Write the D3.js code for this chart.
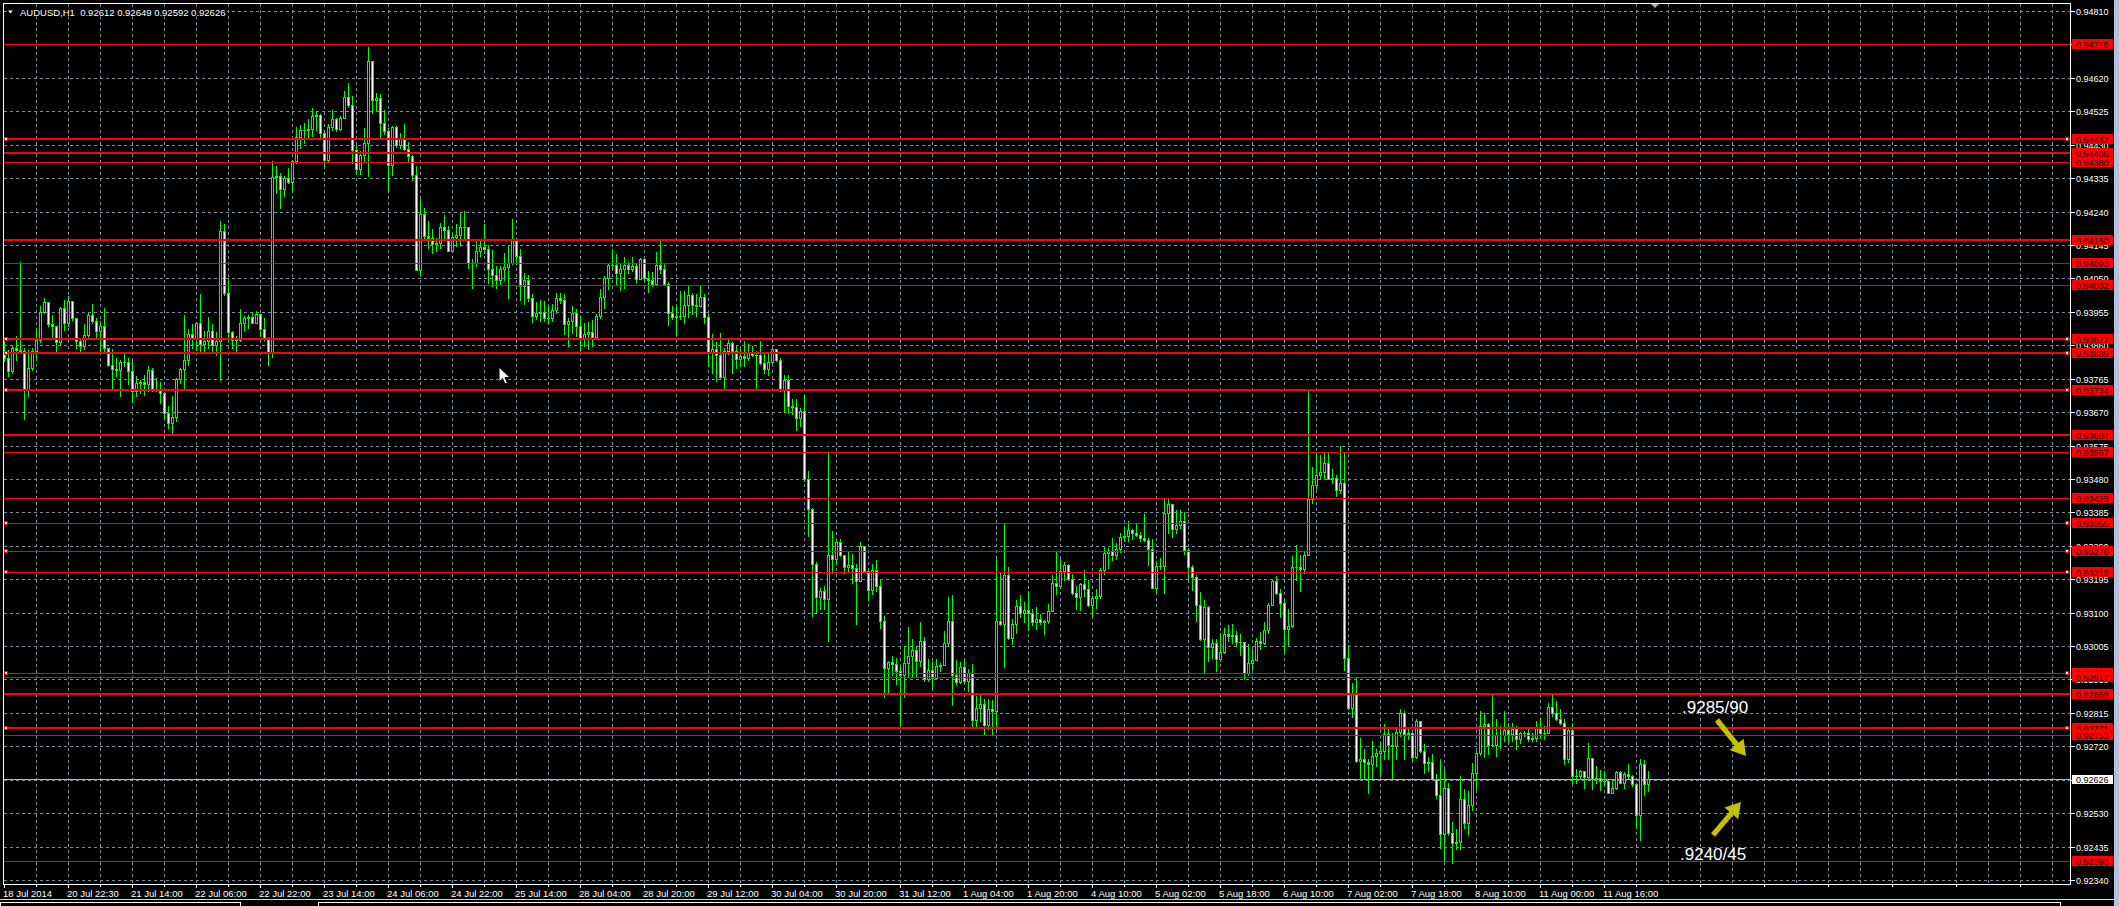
<!DOCTYPE html>
<html><head><meta charset="utf-8"><title>AUDUSD,H1</title>
<script src="https://cdn.jsdelivr.net/npm/d3@7/dist/d3.min.js"></script>
<style>html,body{margin:0;padding:0;background:#000;overflow:hidden}svg{display:block}</style>
</head><body>
<svg id="chart" width="2119" height="906"></svg>
<script>
// ---------- DATA (prices in points, 1 point = 0.00001) ----------
const symbol = "AUDUSD,H1";
const firstOpen = 93834;
const highs = [
93876,93847,93857,93887,94097,93852,93847,93852,93909,93972,
93993,93984,93947,93881,93969,93989,93999,93987,93937,93878,
93919,93952,93977,93937,93928,93966,93852,93849,93824,93819,
93836,93824,93814,93772,93760,93776,93800,93795,93767,93755,
93726,93686,93715,93767,93795,93947,93906,93919,93924,94007,
93900,93941,93919,93897,94213,94205,94048,93900,93887,93962,
93944,93947,93954,93956,93944,93937,93883,94383,94370,94349,
94342,94363,94387,94480,94487,94492,94503,94534,94525,94517,
94473,94490,94528,94506,94511,94582,94605,94567,94430,94411,
94477,94708,94667,94577,94574,94530,94477,94482,94482,94463,
94490,94437,94402,94369,94275,94251,94213,94189,94166,94208,
94229,94199,94175,94204,94235,94242,94194,94104,94156,94163,
94206,94144,94131,94085,94085,94123,94142,94218,94166,94133,
94066,94059,94005,93983,93989,93986,93971,93976,94008,94008,
94005,93938,93971,93962,93943,93922,93926,93932,93948,94021,
94057,94095,94133,94118,94090,94111,94097,94112,94093,94109,
94104,94071,94068,94125,94159,94093,94040,93972,93973,94014,
94014,94030,94009,94005,94030,94005,93953,93891,93869,93896,
93853,93875,93869,93860,93848,93872,93863,93858,93844,93872,
93841,93834,93853,93850,93825,93774,93774,93708,93708,93683,
93718,93503,93398,93244,93171,93176,93553,93332,93308,93308,
93261,93272,93266,93237,93302,93289,93225,93237,93249,93194,
93090,92962,92977,92972,92950,93005,93060,93026,93005,93073,
93031,92967,92960,92967,92956,93048,93145,93149,92965,92960,
92965,92939,92953,92863,92868,92855,92855,92853,93253,93215,
93354,93230,93083,93136,93149,93130,93161,93109,93117,93095,
93079,93124,93206,93275,93253,93244,93237,93209,93176,93183,
93221,93194,93147,93168,93228,93287,93284,93313,93297,93325,
93341,93360,93337,93354,93329,93379,93313,93308,93247,93256,
93427,93422,93410,93393,93393,93386,93284,93234,93206,93159,
93136,93119,93026,93026,93043,93057,93064,93069,93048,93038,
93010,93010,92997,93029,93045,93073,93126,93196,93204,93166,
93138,93109,93261,93291,93263,93275,93729,93515,93555,93547,
93553,93553,93507,93490,93575,93556,93007,92901,92915,92744,
92711,92683,92735,92711,92735,92782,92773,92759,92768,92827,
92820,92768,92757,92797,92789,92726,92690,92697,92640,92685,
92655,92615,92505,92486,92637,92598,92593,92673,92707,92820,
92815,92787,92865,92797,92778,92820,92787,92785,92778,92761,
92763,92770,92757,92792,92801,92778,92842,92865,92849,92825,
92797,92773,92787,92656,92654,92650,92730,92688,92664,92654,
92650,92619,92626,92650,92650,92647,92669,92638,92617,92683,
92681,92649];
const lows = [
93814,93772,93781,93819,93840,93650,93717,93790,93819,93868,
93952,93914,93881,93845,93861,93904,93916,93932,93849,93840,
93849,93881,93924,93881,93840,93840,93800,93738,93772,93717,
93800,93749,93700,93717,93724,93719,93729,93729,93729,93696,
93653,93625,93606,93644,93754,93734,93805,93852,93847,93838,
93843,93852,93843,93833,93760,94004,93876,93852,93840,93871,
93900,93909,93922,93932,93885,93876,93805,93827,94293,94250,
94283,94320,94295,94378,94421,94435,94449,94454,94473,94449,
94370,94383,94473,94468,94473,94506,94537,94378,94348,94348,
94385,94342,94520,94530,94449,94461,94300,94343,94423,94421,
94416,94383,94331,94073,94059,94166,94137,94123,94128,94137,
94166,94128,94142,94142,94144,94163,94080,94024,94085,94114,
94123,94036,94028,94024,94033,94045,93993,94090,94090,93989,
93976,93986,93926,93935,93929,93929,93924,93929,93953,93981,
93891,93858,93896,93886,93841,93858,93848,93858,93877,93938,
93967,94019,94076,94033,94017,94024,94066,94071,94040,94047,
94045,94011,94028,94033,94066,94030,93917,93935,93888,93935,
93924,93941,93948,93943,93972,93924,93801,93782,93758,93763,
93739,93834,93782,93796,93801,93801,93818,93829,93735,93806,
93780,93774,93809,93815,93730,93670,93668,93664,93619,93630,
93474,93318,93090,93100,93111,93111,93019,93213,93237,93261,
93213,93218,93185,93069,93191,93215,93136,93152,93161,93057,
92861,92872,92922,92896,92773,92861,92920,92920,92920,92948,
92905,92905,92886,92924,92934,92950,93005,92836,92896,92899,
92901,92877,92778,92773,92792,92754,92768,92754,92768,93064,
92944,93024,93010,93043,93088,93073,93050,93064,93054,93069,
93038,93071,93105,93152,93171,93194,93194,93152,93110,93108,
93147,93119,93088,93114,93142,93209,93228,93249,93251,93272,
93303,93303,93308,93318,93303,93303,93234,93171,93159,93223,
93157,93325,93316,93327,93341,93266,93196,93164,93076,93022,
92931,92962,92972,92934,92962,92984,93019,93014,93005,92979,
92912,92922,92941,92965,92997,93010,93041,93128,93152,93088,
92986,93007,93060,93194,93161,93213,93263,93412,93455,93481,
93483,93479,93467,93431,93441,92937,92825,92804,92675,92626,
92626,92586,92631,92664,92637,92683,92683,92631,92683,92749,
92683,92740,92678,92688,92704,92645,92650,92626,92574,92432,
92394,92467,92389,92429,92429,92489,92470,92539,92598,92694,
92690,92697,92721,92692,92716,92735,92728,92735,92713,92730,
92749,92735,92735,92735,92745,92740,92757,92806,92795,92782,
92671,92675,92615,92615,92626,92602,92626,92600,92617,92596,
92612,92586,92588,92600,92615,92602,92631,92607,92489,92454,
92583,92592];
const closes = [
93824,93786,93852,93847,93845,93736,93795,93845,93874,93954,
93984,93919,93914,93870,93965,93924,93986,93937,93871,93859,
93889,93946,93928,93900,93914,93852,93805,93792,93791,93813,
93813,93786,93729,93753,93755,93751,93791,93736,93732,93724,
93667,93639,93656,93764,93792,93819,93893,93881,93922,93864,
93871,93900,93862,93871,94185,94009,93897,93874,93876,93924,
93938,93940,93924,93949,93906,93881,93838,94338,94340,94304,
94335,94325,94385,94452,94473,94473,94475,94511,94514,94463,
94387,94480,94503,94475,94507,94566,94544,94414,94361,94401,
94435,94667,94556,94562,94492,94468,94373,94481,94430,94448,
94418,94397,94345,94075,94232,94170,94166,94147,94150,94197,
94188,94129,94169,94173,94197,94195,94095,94093,94127,94138,
94133,94078,94060,94045,94078,94082,94093,94163,94114,94028,
94045,93995,93943,93953,93955,93938,93936,93961,93995,93989,
93920,93929,93953,93915,93879,93892,93899,93882,93943,93998,
94052,94087,94088,94066,94076,94087,94078,94084,94049,94106,
94052,94045,94034,94089,94076,94033,93951,93941,93943,93943,
93975,94004,93975,93971,93998,93941,93841,93848,93831,93771,
93843,93866,93844,93820,93830,93824,93838,93832,93831,93810,
93792,93811,93848,93818,93733,93761,93687,93685,93654,93672,
93479,93394,93237,93145,93161,93138,93264,93251,93301,93264,
93231,93236,93227,93191,93289,93218,93164,93221,93176,93076,
92943,92960,92955,92934,92924,92958,92978,92994,92963,93019,
92910,92937,92915,92948,92952,93013,93076,92924,92903,92946,
92905,92927,92796,92829,92841,92780,92825,92819,93076,93068,
93207,93029,93068,93119,93100,93107,93100,93073,93081,93073,
93076,93105,93185,93176,93217,93236,93196,93157,93145,93180,
93166,93121,93141,93148,93221,93269,93274,93265,93281,93316,
93318,93335,93327,93321,93313,93306,93282,93171,93232,93232,
93382,93410,93337,93350,93360,93278,93231,93202,93121,93026,
93116,93003,93014,92967,92988,93038,93033,93036,93016,93016,
92929,92958,92964,93019,93014,93052,93122,93189,93157,93128,
93054,93062,93231,93231,93225,93265,93424,93464,93492,93501,
93526,93481,93483,93448,93468,92972,92830,92870,92678,92683,
92675,92671,92692,92700,92706,92756,92723,92721,92762,92816,
92754,92757,92690,92791,92707,92673,92675,92626,92583,92470,
92601,92473,92446,92448,92571,92503,92552,92645,92700,92778,
92784,92723,92725,92751,92751,92765,92755,92769,92742,92758,
92757,92742,92743,92775,92757,92759,92833,92814,92798,92787,
92685,92766,92637,92637,92649,92633,92687,92626,92630,92621,
92620,92588,92601,92647,92617,92642,92636,92612,92524,92671,
92612,92626];
const timeLabels = ["18 Jul 2014","20 Jul 22:30","21 Jul 14:00","22 Jul 06:00","22 Jul 22:00",
"23 Jul 14:00","24 Jul 06:00","24 Jul 22:00","25 Jul 14:00","28 Jul 04:00","28 Jul 20:00",
"29 Jul 12:00","30 Jul 04:00","30 Jul 20:00","31 Jul 12:00","1 Aug 04:00","1 Aug 20:00",
"4 Aug 10:00","5 Aug 02:00","5 Aug 18:00","6 Aug 10:00","7 Aug 02:00","7 Aug 18:00",
"8 Aug 10:00","11 Aug 00:00","11 Aug 16:00"];
const barsPerLabel = 16;
const barsPerGrid = 8;
const priceTicks = ["0.92340","0.92435","0.92530","0.92625","0.92720","0.92815","0.92910",
"0.93005","0.93100","0.93195","0.93290","0.93385","0.93480","0.93575","0.93670","0.93765",
"0.93860","0.93955","0.94050","0.94145","0.94240","0.94335","0.94430","0.94525","0.94620",
"0.94715","0.94810"];
const levels = ["0.94715","0.94447","0.94406","0.94380","0.94160","0.94093","0.94032",
"0.93877","0.93839","0.93734","0.93604","0.93557","0.93425","0.93355","0.93276","0.93215",
"0.92929","0.92917","0.92869","0.92771","0.92753","0.92393"];
const markedLevels = ["0.94447","0.93877","0.93839","0.93734","0.93355","0.93276","0.93215","0.92929","0.92771"];
const currentPrice = "0.92626";
const noteTexts = [".9285/90", ".9240/45"];

// ---------- STYLE ----------
const thickLevels = new Set(["0.94447","0.94406","0.94160","0.93877","0.93839","0.93734","0.93604","0.92869","0.92771"]);
const LIME = "#00ff00", GRID = "#7f8c9a", RED = "#ff0000", ARROW = "#c2c200";
const FONT = "'Liberation Sans', Arial, sans-serif";

// ---------- SCALES ----------
const svg = d3.select("#chart");
const n = closes.length;
const x = d3.scaleLinear().domain([0, n - 1]).range([4.3, 4.3 + 4 * (n - 1)]);
const y = d3.scaleLinear().domain([92340, 94810]).range([880, 11]);
const pt = s => Math.round(parseFloat(s) * 1e5);
const L = 3, R = 2070, T = 3, B = 884;

svg.append("rect").attr("width", 2119).attr("height", 906).attr("fill", "#000");

// grid
const grid = svg.append("g").attr("shape-rendering", "crispEdges")
  .attr("stroke", GRID).attr("stroke-width", 1).attr("stroke-dasharray", "3,3");
grid.selectAll("line.h").data(priceTicks).join("line")
  .attr("x1", L + 1).attr("x2", R)
  .attr("y1", d => Math.round(y(pt(d))) + 0.5).attr("y2", d => Math.round(y(pt(d))) + 0.5);
const vIdx = d3.range(barsPerGrid, 1000, barsPerGrid).filter(i => x(i) < R - 1);
grid.selectAll("line.v").data(vIdx).join("line")
  .attr("x1", d => Math.floor(x(d)) + 0.5).attr("x2", d => Math.floor(x(d)) + 0.5)
  .attr("y1", T + 1).attr("y2", B);

// current price line
svg.append("line").attr("shape-rendering", "crispEdges")
  .attr("x1", L + 1).attr("x2", R).attr("y1", Math.round(y(pt(currentPrice))) + 0.5)
  .attr("y2", Math.round(y(pt(currentPrice))) + 0.5).attr("stroke", "#aeb6bf");

// candles
const candles = closes.map((c, i) => ({
  i, o: i ? closes[i - 1] : firstOpen, h: highs[i], l: lows[i], c
}));
const cg = svg.append("g").attr("shape-rendering", "crispEdges");
const cs = cg.selectAll("g").data(candles).join("g");
cs.append("rect")
  .attr("x", d => Math.floor(x(d.i))).attr("width", 1)
  .attr("y", d => Math.round(y(Math.max(d.h, d.o, d.c))))
  .attr("height", d => Math.max(1, Math.round(y(Math.min(d.l, d.o, d.c))) - Math.round(y(Math.max(d.h, d.o, d.c))) + 1))
  .attr("fill", LIME);
cs.append("rect")
  .attr("x", d => Math.floor(x(d.i)) - 1).attr("width", 3)
  .attr("y", d => Math.round(y(Math.max(d.o, d.c))))
  .attr("height", d => Math.round(y(Math.min(d.o, d.c))) - Math.round(y(Math.max(d.o, d.c))) + 1)
  .attr("fill", LIME);
cs.filter(d => Math.round(y(Math.min(d.o, d.c))) - Math.round(y(Math.max(d.o, d.c))) > 1)
  .append("rect")
  .attr("x", d => Math.floor(x(d.i))).attr("width", 1)
  .attr("y", d => Math.round(y(Math.max(d.o, d.c))) + 1)
  .attr("height", d => Math.round(y(Math.min(d.o, d.c))) - Math.round(y(Math.max(d.o, d.c))) - 1)
  .attr("fill", d => d.c < d.o ? "#ffffff" : "#000000");

// red levels
const lg = svg.append("g").attr("shape-rendering", "crispEdges");
lg.selectAll("rect.lvl").data(levels).join("rect")
  .attr("x", L + 1).attr("width", R - L - 1)
  .attr("y", d => Math.round(y(pt(d))) - (thickLevels.has(d) ? 1 : 0))
  .attr("height", d => thickLevels.has(d) ? 2 : 1).attr("fill", RED);
markedLevels.forEach(s => {
  const yy = Math.round(y(pt(s)));
  [6, 2067].forEach(mx => {
    lg.append("rect").attr("x", mx - 2 + 0.5).attr("y", yy - 2 + 0.5).attr("width", 3).attr("height", 3)
      .attr("fill", "#fff").attr("stroke", RED).attr("stroke-width", 1);
  });
});

// frame
svg.append("rect").attr("x", L + 0.5).attr("y", T + 0.5).attr("width", R - L).attr("height", B - T)
  .attr("fill", "none").attr("stroke", "#fff").attr("shape-rendering", "crispEdges");

// price axis
const ax = svg.append("g");
priceTicks.forEach(s => {
  const yy = Math.round(y(pt(s)));
  ax.append("rect").attr("x", R + 1).attr("y", yy).attr("width", 4).attr("height", 1).attr("fill", "#fff");
  ax.append("text").attr("x", 2076).attr("y", yy + 3.5).text(s)
    .attr("fill", "#fff").attr("font-family", FONT).attr("font-size", 9);
});
levels.forEach(s => {
  const yy = y(pt(s));
  ax.append("rect").attr("x", 2072).attr("y", Math.round(yy) - 5).attr("width", 41).attr("height", 10).attr("fill", RED);
  ax.append("text").attr("x", 2076).attr("y", Math.round(yy) + 3.5).text(s)
    .attr("fill", "#2a0000").attr("font-family", FONT).attr("font-size", 9);
});
{
  const yy = Math.round(y(pt(currentPrice)));
  ax.append("rect").attr("x", 2072).attr("y", yy - 4).attr("width", 41).attr("height", 9).attr("fill", "#fff");
  ax.append("text").attr("x", 2076).attr("y", yy + 3.5).text(currentPrice)
    .attr("fill", "#000").attr("font-family", FONT).attr("font-size", 9);
}

// time axis
const tg = svg.append("g");
timeLabels.forEach((t, k) => {
  const xx = Math.floor(x(k * barsPerLabel));
  tg.append("rect").attr("x", xx).attr("y", B + 1).attr("width", 1).attr("height", 3).attr("fill", "#fff");
  tg.append("text").attr("x", xx - 1).attr("y", 897).text(t)
    .attr("fill", "#fff").attr("font-family", FONT).attr("font-size", 9.5);
});
vIdx.filter(i => i % barsPerLabel !== 0).forEach(i => {
  tg.append("rect").attr("x", Math.floor(x(i))).attr("y", B + 1).attr("width", 1).attr("height", 2).attr("fill", "#fff");
});

// header
const last = candles[n - 1];
const f5 = v => (v / 1e5).toFixed(5);
svg.append("rect").attr("x", 7).attr("y", 7).attr("width", 220).attr("height", 10).attr("fill", "#000");
svg.append("path").attr("d", "M8,10.5 L13,10.5 L10.5,13.5 Z").attr("fill", "#fff");
svg.append("text").attr("x", 20).attr("y", 15.5).attr("xml:space", "preserve")
  .text(`${symbol}  ${f5(last.o)} ${f5(last.h)} ${f5(last.l)} ${f5(last.c)}`)
  .attr("fill", "#fff").attr("font-family", FONT).attr("font-size", 9.5);

// chart shift marker
svg.append("path").attr("d", "M1651,4 L1659,4 L1655,8 Z").attr("fill", "#b0b0b0");

// annotations
const ng = svg.append("g");
ng.append("text").attr("x", 1682).attr("y", 713).text(noteTexts[0])
  .attr("fill", "#fff").attr("font-family", FONT).attr("font-size", 17);
ng.append("text").attr("x", 1680).attr("y", 860).text(noteTexts[1])
  .attr("fill", "#fff").attr("font-family", FONT).attr("font-size", 17);
function arrow(x1, y1, x2, y2) {
  const dx = x2 - x1, dy = y2 - y1, len = Math.hypot(dx, dy);
  const ux = dx / len, uy = dy / len, px = -uy, py = ux;
  const hl = 15, hw = 9, sw = 2.6;
  const bx = x2 - ux * hl, by = y2 - uy * hl;
  const p = [
    [x1 + px * sw, y1 + py * sw], [bx + px * sw, by + py * sw], [bx + px * hw, by + py * hw],
    [x2, y2], [bx - px * hw, by - py * hw], [bx - px * sw, by - py * sw], [x1 - px * sw, y1 - py * sw]
  ];
  ng.append("path").attr("d", "M" + p.map(q => q.join(",")).join("L") + "Z").attr("fill", ARROW);
}
arrow(1717, 720, 1746, 756);
arrow(1713, 835, 1741, 802);

// mouse cursor
svg.append("path").attr("transform", "translate(499,367)")
  .attr("d", "M0,0 L0,15 L3.5,11.5 L6,17 L8.5,16 L6,10.5 L11,10.5 Z")
  .attr("fill", "#fff").attr("stroke", "#000").attr("stroke-width", 1);

// window chrome
svg.append("rect").attr("x", 2114).attr("y", 0).attr("width", 5).attr("height", 906).attr("fill", "#a9c6e4");
svg.append("line").attr("x1", 0).attr("x2", 2114).attr("y1", 899.5).attr("y2", 899.5)
  .attr("stroke", "#d8d8d8").attr("shape-rendering", "crispEdges");
svg.append("rect").attr("x", 0.5).attr("y", 902.5).attr("width", 240).attr("height", 10)
  .attr("fill", "none").attr("stroke", "#fff").attr("shape-rendering", "crispEdges");
svg.append("rect").attr("x", 318.5).attr("y", 902.5).attr("width", 1742).attr("height", 10)
  .attr("fill", "none").attr("stroke", "#fff").attr("shape-rendering", "crispEdges");
</script></body></html>
